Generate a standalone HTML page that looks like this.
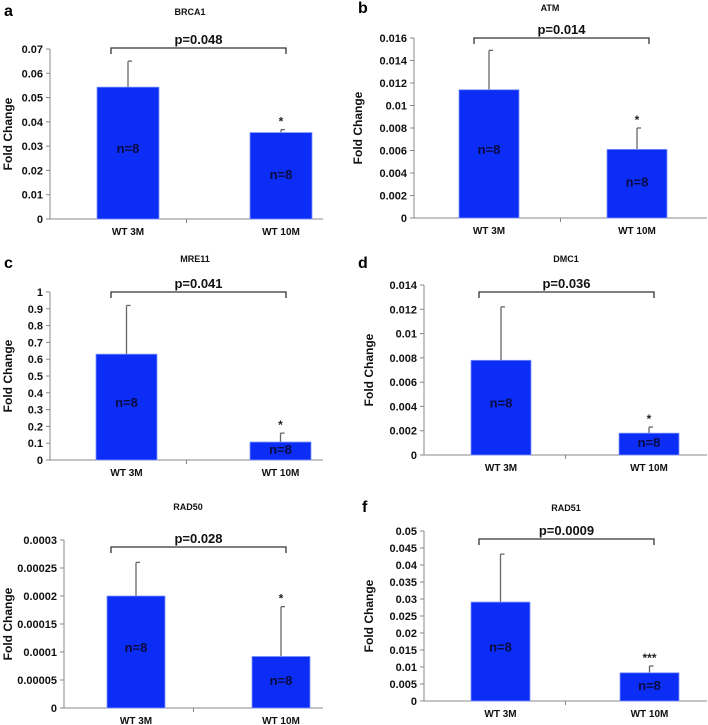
<!DOCTYPE html>
<html><head><meta charset="utf-8">
<style>
html,body{margin:0;padding:0;background:#fff;}
svg{display:block;font-family:"Liberation Sans",Arial,sans-serif;font-weight:bold;}
</style></head>
<body>
<svg id="fig" width="708" height="725" viewBox="0 0 708 725"></svg>
<script>
// ---- data ----
const categories = ["WT 3M", "WT 10M"];
const genes = ["BRCA1", "ATM", "MRE11", "DMC1", "RAD50", "RAD51"];
const panelLetters = ["a", "b", "c", "d", "", "f"];
const pValues = ["p=0.048", "p=0.014", "p=0.041", "p=0.036", "p=0.028", "p=0.0009"];
const sigMarks = ["*", "*", "*", "*", "*", "***"];
const nLabels = ["n=8", "n=8"];
const brcaValues = [0.0543, 0.0356];
const brcaErrTop = [0.065, 0.0368];
const atmValues = [0.0114, 0.0061];
const atmErrTop = [0.0149, 0.0080];
const mre11Values = [0.63, 0.107];
const mre11ErrTop = [0.92, 0.16];
const dmc1Values = [0.0078, 0.0018];
const dmc1ErrTop = [0.0122, 0.0023];
const rad50Values = [0.0002, 0.000092];
const rad50ErrTop = [0.00026, 0.000181];
const rad51Values = [0.0291, 0.0083];
const rad51ErrTop = [0.0432, 0.0103];
const brcaTicks = ["0","0.01","0.02","0.03","0.04","0.05","0.06","0.07"];
const atmTicks = ["0","0.002","0.004","0.006","0.008","0.01","0.012","0.014","0.016"];
const mre11Ticks = ["0","0.1","0.2","0.3","0.4","0.5","0.6","0.7","0.8","0.9","1"];
const dmc1Ticks = ["0","0.002","0.004","0.006","0.008","0.01","0.012","0.014"];
const rad50Ticks = ["0","0.00005","0.0001","0.00015","0.0002","0.00025","0.0003"];
const rad51Ticks = ["0","0.005","0.01","0.015","0.02","0.025","0.03","0.035","0.04","0.045","0.05"];

const seriesValues = [brcaValues, atmValues, mre11Values, dmc1Values, rad50Values, rad51Values];
const seriesErr = [brcaErrTop, atmErrTop, mre11ErrTop, dmc1ErrTop, rad50ErrTop, rad51ErrTop];
const seriesTicks = [brcaTicks, atmTicks, mre11Ticks, dmc1Ticks, rad50Ticks, rad51Ticks];

// ---- layout (pixel geometry) ----
const layout = [
 {ax:50, top:49, zero:219, right:323, bx:[97,250], bw:62, brY:48, brX:[111,286], title:[190,15], letter:[4,16]},
 {ax:414, top:38, zero:218, right:707, bx:[459,607], bw:60, brY:38, brX:[474,649], title:[550,11], letter:[358,13]},
 {ax:50, top:292, zero:460, right:323, bx:[96,250], bw:61, brY:292, brX:[111,286], title:[195,262], letter:[4,268]},
 {ax:424, top:285, zero:455, right:707, bx:[471,619], bw:60, brY:292, brX:[479,654], title:[566,262], letter:[358,268]},
 {ax:64, top:540, zero:708, right:323, bx:[107,252], bw:58, brY:547, brX:[111,286], title:[188,510], letter:[4,510]},
 {ax:424, top:531, zero:701, right:707, bx:[471,620], bw:59, brY:539, brX:[479,654], title:[566,511], letter:[362,512]}
];

const svg = document.getElementById('fig');
const NS = 'http://www.w3.org/2000/svg';
function mk(tag, attrs, parent){
  const e = document.createElementNS(NS, tag);
  for (const k in attrs) e.setAttribute(k, attrs[k]);
  (parent||svg).appendChild(e);
  return e;
}

genes.forEach((gene, i) => {
  const L = layout[i];
  const ticks = seriesTicks[i];
  const vals = seriesValues[i];
  const errs = seriesErr[i];
  const maxV = parseFloat(ticks[ticks.length-1]);
  const y = v => L.zero - (v / maxV) * (L.zero - L.top);

  const g = mk('g', {});
  
  

  if (panelLetters[i]) {
    const t = mk('text', {x:L.letter[0], y:L.letter[1], 'font-size':16, fill:'#000'}, g);
    t.textContent = panelLetters[i];
    
    
  }
  const tt = mk('text', {x:L.title[0], y:L.title[1], 'font-size':9, 'text-anchor':'middle', fill:'#111'}, g);
  tt.textContent = gene;
  
  

  // y axis title
  const midY = (L.top + L.zero) / 2;
  const yt = mk('text', {x:0, y:0, 'font-size':12, 'text-anchor':'middle', fill:'#111',
    transform:'translate(' + (i%2===0 ? 12 : (L.ax - 55 > 360 ? 373 : 362)) + ',' + midY + ') rotate(-90)'}, g);
  yt.textContent = 'Fold Change';
  
  

  // axes
  const ya = mk('line', {x1:L.ax, y1:L.top, x2:L.ax, y2:L.zero, stroke:'#888', 'stroke-width':1}, g);
  
  
  const xa = mk('line', {x1:L.ax-4, y1:L.zero, x2:L.right, y2:L.zero, stroke:'#888', 'stroke-width':1}, g);
  
  
  const midX = (L.ax + L.right) / 2;
  mk('line', {x1:midX, y1:L.zero, x2:midX, y2:L.zero+4, stroke:'#888'}, g);

  ticks.forEach(tl => {
    const ty = y(parseFloat(tl));
    mk('line', {x1:L.ax-4, y1:ty, x2:L.ax, y2:ty, stroke:'#888'}, g);
    const t = mk('text', {x:L.ax-7, y:ty+4, 'font-size':11, 'text-anchor':'end', fill:'#111'}, g);
    t.textContent = tl;
    
    
  });

  vals.forEach((v, j) => {
    const bx = L.bx[j], bw = L.bw;
    const top = y(v);
    const eTop = y(errs[j]);
    const cx = bx + bw/2;
    const el = mk('line', {x1:cx, y1:top, x2:cx, y2:eTop, stroke:'#666', 'stroke-width':1.3}, g);
    
    
    mk('line', {x1:cx, y1:eTop, x2:cx+4, y2:eTop, stroke:'#666', 'stroke-width':1.3}, g);
    const r = mk('rect', {x:bx, y:top, width:bw, height:L.zero-top, fill:'#0b2df5', stroke:'#7f95ff', 'stroke-width':0.8}, g);
    
    
    const n = mk('text', {x:cx, y:(top + L.zero)/2 + (j===0 ? 0 : 3), 'font-size':13, 'text-anchor':'middle', fill:'#0a0a40'}, g);
    n.textContent = nLabels[j];
    
    
    const xl = mk('text', {x:cx, y:L.zero+16, 'font-size':10, 'text-anchor':'middle', fill:'#111'}, g);
    xl.textContent = categories[j];
    
    
    if (j === 1) {
      const s = mk('text', {x:cx, y:eTop-4, 'font-size':12, 'text-anchor':'middle', fill:'#222'}, g);
      s.textContent = sigMarks[i];
      
      
    }
  });

  // bracket
  const br = mk('path', {d:'M' + L.brX[0] + ' ' + (L.brY+6) + ' V' + L.brY + ' H' + L.brX[1] + ' V' + (L.brY+6), fill:'none', stroke:'#333', 'stroke-width':1.3}, g);
  
  
  const p = mk('text', {x:(L.brX[0]+L.brX[1])/2, y:L.brY-4, 'font-size':13, 'text-anchor':'middle', fill:'#111'}, g);
  p.textContent = pValues[i];
  
  
});
</script>
</body></html>
